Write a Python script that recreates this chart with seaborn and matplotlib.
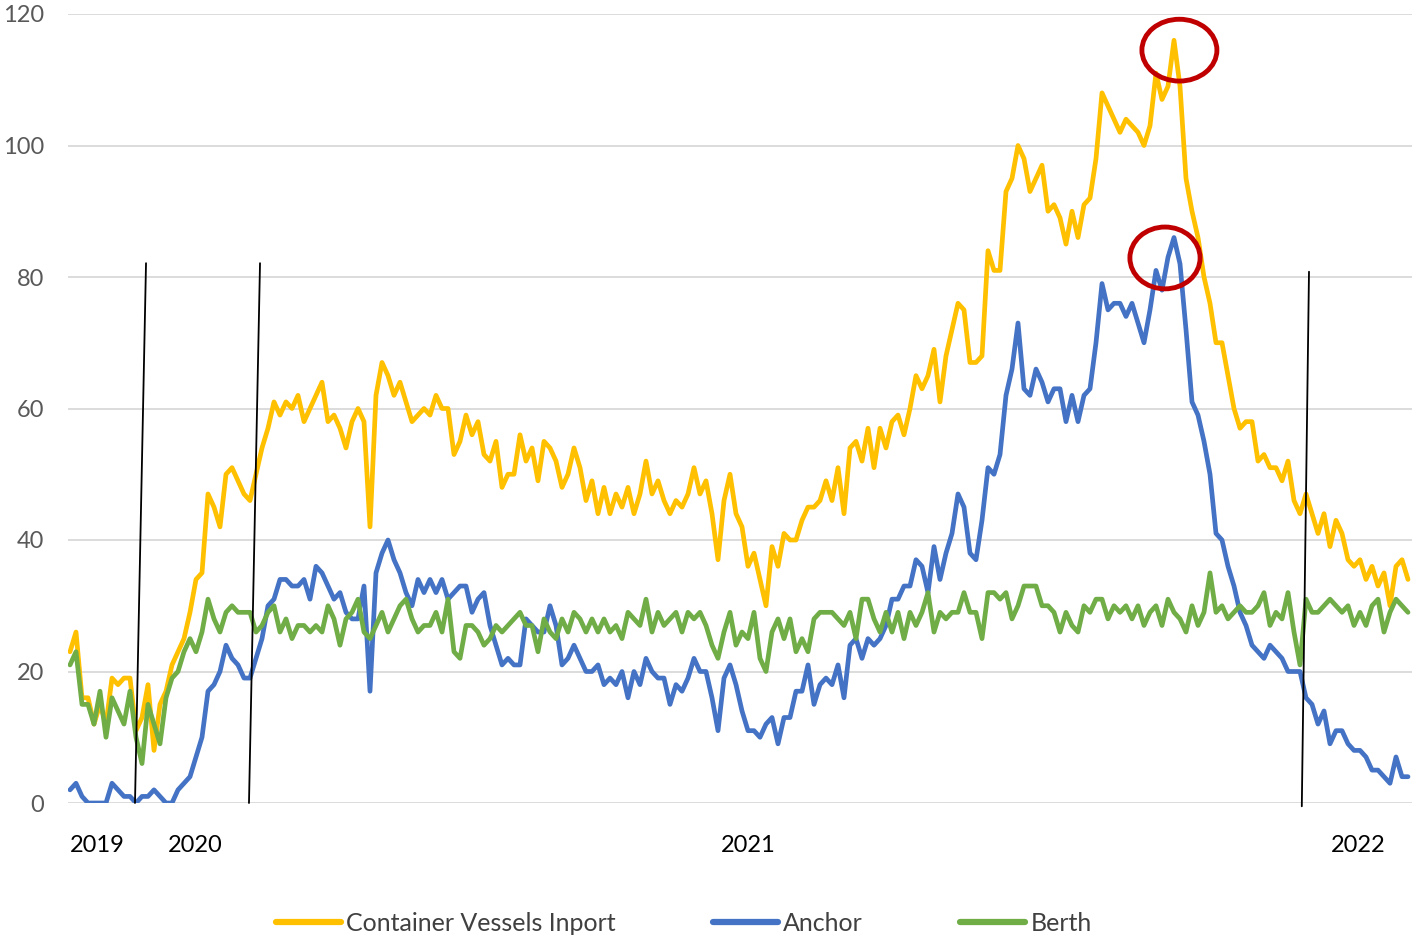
import matplotlib
matplotlib.use("Agg")
import matplotlib.pyplot as plt
from matplotlib.patches import Ellipse
from matplotlib.lines import Line2D
import seaborn as sns
import pandas as pd
import numpy as np

series_names = ["Container Vessels Inport", "Anchor", "Berth"]

inport = [23, 26, 16, 16, 12, 15, 12, 19, 18, 19, 19, 11, 13, 18, 8, 15, 17, 21, 23, 25,
          29, 34, 35, 47, 45, 42, 50, 51, 49, 47, 46, 50, 54, 57, 61, 59, 61, 60, 62, 58,
          60, 62, 64, 58, 59, 57, 54, 58, 60, 58, 42, 62, 67, 65, 62, 64, 61, 58, 59, 60,
          59, 62, 60, 60, 53, 55, 59, 56, 58, 53, 52, 55, 48, 50, 50, 56, 52, 54, 49, 55,
          54, 52, 48, 50, 54, 51, 46, 49, 44, 48, 44, 47, 45, 48, 44, 47, 52, 47, 49, 46,
          44, 46, 45, 47, 51, 47, 49, 44, 37, 46, 50, 44, 42, 36, 38, 34, 30, 39, 36, 41,
          40, 40, 43, 45, 45, 46, 49, 46, 51, 44, 54, 55, 52, 57, 51, 57, 54, 58, 59, 56,
          60, 65, 63, 65, 69, 61, 68, 72, 76, 75, 67, 67, 68, 84, 81, 81, 93, 95, 100, 98,
          93, 95, 97, 90, 91, 89, 85, 90, 86, 91, 92, 98, 108, 106, 104, 102, 104, 103, 102, 100,
          103, 111, 107, 109, 116, 109, 95, 90, 86, 80, 76, 70, 70, 65, 60, 57, 58, 58, 52, 53,
          51, 51, 49, 52, 46, 44, 47, 44, 41, 44, 39, 43, 41, 37, 36, 37, 34, 36, 33, 35,
          30, 36, 37, 34]

anchor = [2, 3, 1, 0, 0, 0, 0, 3, 2, 1, 1, 0, 1, 1, 2, 1, 0, 0, 2, 3,
          4, 7, 10, 17, 18, 20, 24, 22, 21, 19, 19, 22, 25, 30, 31, 34, 34, 33, 33, 34,
          31, 36, 35, 33, 31, 32, 29, 28, 28, 33, 17, 35, 38, 40, 37, 35, 32, 30, 34, 32,
          34, 32, 34, 31, 32, 33, 33, 29, 31, 32, 27, 24, 21, 22, 21, 21, 28, 27, 26, 26,
          30, 27, 21, 22, 24, 22, 20, 20, 21, 18, 19, 18, 20, 16, 20, 18, 22, 20, 19, 19,
          15, 18, 17, 19, 22, 20, 20, 16, 11, 19, 21, 18, 14, 11, 11, 10, 12, 13, 9, 13,
          13, 17, 17, 21, 15, 18, 19, 18, 21, 16, 24, 25, 22, 25, 24, 25, 27, 31, 31, 33,
          33, 37, 36, 32, 39, 34, 38, 41, 47, 45, 38, 37, 43, 51, 50, 53, 62, 66, 73, 63,
          62, 66, 64, 61, 63, 63, 58, 62, 58, 62, 63, 70, 79, 75, 76, 76, 74, 76, 73, 70,
          75, 81, 78, 83, 86, 82, 72, 61, 59, 55, 50, 41, 40, 36, 33, 29, 27, 24, 23, 22,
          24, 23, 22, 20, 20, 20, 16, 15, 12, 14, 9, 11, 11, 9, 8, 8, 7, 5, 5, 4,
          3, 7, 4, 4]

berth = [21, 23, 15, 15, 12, 17, 10, 16, 14, 12, 17, 10, 6, 15, 12, 9, 16, 19, 20, 23,
         25, 23, 26, 31, 28, 26, 29, 30, 29, 29, 29, 26, 27, 29, 30, 26, 28, 25, 27, 27,
         26, 27, 26, 30, 28, 24, 28, 29, 31, 26, 25, 27, 29, 26, 28, 30, 31, 28, 26, 27,
         27, 29, 26, 31, 23, 22, 27, 27, 26, 24, 25, 27, 26, 27, 28, 29, 27, 27, 23, 28,
         26, 25, 28, 26, 29, 28, 26, 28, 26, 28, 26, 27, 25, 29, 28, 27, 31, 26, 29, 27,
         28, 29, 26, 29, 28, 29, 27, 24, 22, 26, 29, 24, 26, 25, 29, 22, 20, 26, 28, 25,
         28, 23, 25, 23, 28, 29, 29, 29, 28, 27, 29, 25, 31, 31, 28, 26, 29, 26, 29, 25,
         29, 27, 29, 32, 26, 29, 28, 29, 29, 32, 29, 29, 25, 32, 32, 31, 32, 28, 30, 33,
         33, 33, 30, 30, 29, 26, 29, 27, 26, 30, 29, 31, 31, 28, 30, 29, 30, 28, 30, 27,
         29, 30, 27, 31, 29, 28, 26, 30, 27, 29, 35, 29, 30, 28, 29, 30, 29, 29, 30, 32,
         27, 29, 28, 32, 26, 21, 31, 29, 29, 30, 31, 30, 29, 30, 27, 29, 27, 30, 31, 26,
         29, 31, 30, 29]

year_labels = ["2019", "2020", "2021", "2022"]
year_tick_idx = [4.5, 20.8, 113.0, 214.7]

colors = ["#FFC000", "#4472C4", "#70AD47"]

n = len(inport)
df = pd.DataFrame({
    "idx": np.concatenate([np.arange(n)] * 3),
    "value": inport + anchor + berth,
    "series": np.repeat(series_names, n),
})

sns.set_theme(style="white")
plt.rcParams["font.family"] = ["Lato", "DejaVu Sans"]

fig = plt.figure(figsize=(14.16, 9.40), dpi=100)
ax = fig.add_axes([68 / 1416, 1 - 803 / 940, (1412 - 68) / 1416, (803 - 14) / 940])

sns.lineplot(data=df, x="idx", y="value", hue="series", hue_order=series_names,
             palette=colors, linewidth=3.4, legend=False, ax=ax, zorder=3)

ax.set_xlim(-2 / 6, n - 1 + 4 / 6)
ax.set_ylim(0, 120)
ax.set_yticks(range(0, 121, 20))
ax.set_xticks(year_tick_idx)
ax.set_xticklabels(year_labels)
ax.set_xlabel("")
ax.set_ylabel("")
ax.grid(axis="y", color="#D9D9D9", linewidth=1.3)
ax.grid(axis="x", visible=False)
ax.set_axisbelow(True)
for s in ax.spines.values():
    s.set_visible(False)
ax.tick_params(axis="y", length=0, pad=17, labelsize=17, labelcolor="#595959")
ax.tick_params(axis="x", length=0, pad=23, labelsize=17, labelcolor="#000000")

# annotation lines (period markers)
marker_lines = [((12.67, 82.1), (10.83, 0.0)),
                ((31.67, 82.1), (29.83, 0.0)),
                ((206.5, 80.8), (205.3, -0.5))]
for (x0, y0), (x1, y1) in marker_lines:
    ax.plot([x0, x1], [y0, y1], color="black", linewidth=1.3, zorder=5, clip_on=False)

# highlight ellipses around peaks
peak_circles = [(184.9, 114.5, 12.5, 9.4), (182.5, 82.9, 11.7, 9.4)]
for cx, cy, w, h in peak_circles:
    ax.add_patch(Ellipse((cx, cy), w, h, fill=False, edgecolor="#C00000",
                         linewidth=3.5, zorder=6, clip_on=False))

handles = [Line2D([0], [0], color=c, linewidth=4.5) for c in colors]
fig.legend(handles, series_names, loc="center", bbox_to_anchor=(0.483, 0.018),
           ncol=3, frameon=False, fontsize=18, handlelength=2.6, handletextpad=0.2,
           columnspacing=3.9, labelcolor="#404040", borderpad=0)

fig.savefig("out.png", dpi=100)
